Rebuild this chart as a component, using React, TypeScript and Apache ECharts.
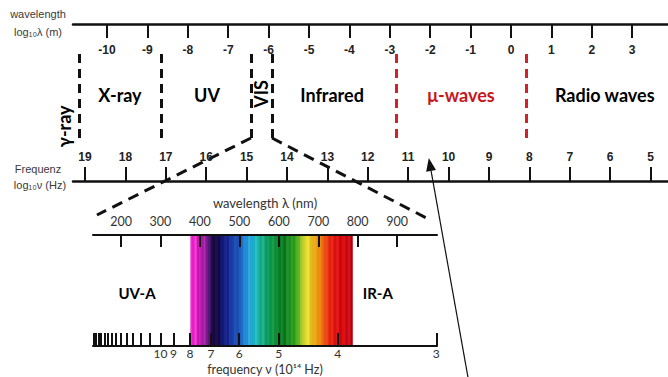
import React, { useEffect, useRef } from 'react';
import * as echarts from 'echarts';

// Outer scale (log10 of wavelength in m / log10 of frequency in Hz)
const LOG_LAMBDA_TICKS = [-10, -9, -8, -7, -6, -5, -4, -3, -2, -1, 0, 1, 2, 3];
const LOG_NU_TICKS = [19, 18, 17, 16, 15, 14, 13, 12, 11, 10, 9, 8, 7, 6, 5];

// Region boundaries in log10 λ (m)
const BOUNDARIES = [-10.693, -8.663, -6.436, -5.916, -2.847, 0.371];
const BOUNDARY_COLORS = ['#111111', '#111111', '#111111', '#111111', '#d42027', '#d42027'];

// Region labels
const REGIONS = ['γ-ray', 'X-ray', 'UV', 'VIS', 'Infrared', 'μ-waves', 'Radio waves'];
const REGION_CENTERS = [-11.064, -9.68, -7.525, -6.18, -4.43, -1.238, 2.32];
const REGION_LEVELS = [0.13, 0.48, 0.48, 0.49, 0.48, 0.48, 0.48];
const REGION_ROTATE = [90, 0, 0, 90, 0, 0, 0];
const REGION_COLORS = ['#000', '#000', '#000', '#000', '#000', '#c8161d', '#000'];

// Inner (zoomed) scale
const NM_TICKS = [200, 300, 400, 500, 600, 700, 800, 900];
const FREQ_TICKS = [3, 4, 5, 6, 7, 8, 9, 10, 11, 12, 13, 14, 15, 16, 17, 18, 19, 20, 21, 22, 23];
const FREQ_LABELS = [10, 9, 8, 7, 6, 5, 4, 3];
const C_NM = 2998; // c expressed in nm * 10^14 Hz

const INNER_REGIONS = ['UV-A', 'IR-A'];
const INNER_CENTERS = [240.6, 851];

// Visible spectrum stripes (start wavelength in nm)
const SPECTRUM_START = [
  375, 378, 386, 392, 398, 404, 410, 414, 420, 426, 432, 438, 444, 450, 456, 462, 468, 474, 480, 486,
  492, 498, 504, 510, 516, 522, 528, 534, 540, 546, 552, 558, 564, 570, 576, 582, 588, 594, 600, 606,
  612, 618, 624, 630, 636, 642, 648, 654, 660, 666, 672, 678, 684, 690, 696, 702, 708, 714, 720, 726,
  732, 738, 746, 752, 760, 768, 776, 782,
];
const SPECTRUM_END = 786;
const SPECTRUM_COLORS = [
  '#f070e0', '#e81cc8', '#f040d0', '#d010b8', '#c020b0', '#a01aa0', '#b030b0', '#7a1a90', '#5a1478', '#2a0c58',
  '#160838', '#200c50', '#0c0a40', '#1a1468', '#101a78', '#1c2890', '#122288', '#1a38a0', '#1840a8', '#2050b8',
  '#1a48b0', '#2060c0', '#1c6cc8', '#2888d8', '#2090d0', '#30a8e0', '#20a8d0', '#18b0c0', '#28c0c0', '#18b0a0',
  '#10a888', '#20b888', '#0c9868', '#10a060', '#0a9048', '#18a048', '#0c8a38', '#128c30', '#0a7a20', '#108428',
  '#0a7018', '#20902a', '#1a8a20', '#30a020', '#28981c', '#50b020', '#60b428', '#a0c828', '#c8d030', '#e8d828',
  '#f0e040', '#d8c020', '#e8b018', '#f0a818', '#e89010', '#f08818', '#f06810', '#e85010', '#f04018', '#e02010',
  '#f02818', '#d81010', '#e81c18', '#c80810', '#e01010', '#c00818', '#d81018', '#b00010',
];

const NARROW = "'Liberation Sans Narrow', 'Liberation Sans', Arial, sans-serif";
const SANS = "'Liberation Sans', Arial, sans-serif";
const CAL = "Lato, 'Open Sans', sans-serif";

export default function App() {
  const ref = useRef<HTMLDivElement>(null);

  useEffect(() => {
    if (!ref.current) return;
    const chart = echarts.init(ref.current, null, { renderer: 'svg' });

    const logLabel = { fontFamily: NARROW, fontWeight: 'bold' as const, fontSize: 12, color: '#222' };
    const blackLine = { color: '#111', width: 2.5 };
    const tickStyle = { color: '#111', width: 2 };

    const option: any = {
      animation: false,
      grid: [
        { left: 73, top: 24, width: 595, height: 157 },
        { left: 0, top: 48, width: 668, height: 90 },
        { left: 93, top: 235, width: 344, height: 111 },
      ],
      xAxis: [
        {
          gridIndex: 0, type: 'value', position: 'top', min: -10.842, max: 3.886,
          axisLine: { show: true, onZero: false, lineStyle: blackLine },
          axisTick: { show: true, inside: true, length: 14, lineStyle: tickStyle, customValues: LOG_LAMBDA_TICKS },
          axisLabel: { show: true, inside: true, margin: 20, customValues: LOG_LAMBDA_TICKS, ...logLabel },
          splitLine: { show: false },
        },
        {
          gridIndex: 0, type: 'value', position: 'bottom', inverse: true, min: 4.569, max: 19.297,
          axisLine: { show: true, onZero: false, lineStyle: blackLine },
          axisTick: { show: true, inside: true, length: 14, lineStyle: tickStyle, customValues: LOG_NU_TICKS },
          axisLabel: { show: true, inside: true, margin: 18, customValues: LOG_NU_TICKS, ...logLabel },
          splitLine: { show: false },
        },
        { gridIndex: 1, type: 'value', min: -12.649, max: 3.886, show: false, splitLine: { show: false } },
        {
          gridIndex: 2, type: 'value', position: 'top', min: 129, max: 1001, z: 10,
          axisLine: { show: true, onZero: false, lineStyle: { color: '#111', width: 2 } },
          axisTick: { show: true, inside: true, length: 12, lineStyle: tickStyle, customValues: NM_TICKS },
          axisLabel: { show: true, margin: 7, customValues: NM_TICKS, fontFamily: CAL, fontSize: 12.5, color: '#333' },
          splitLine: { show: false },
          name: 'wavelength λ (nm)', nameLocation: 'middle', nameGap: 26,
          nameTextStyle: { fontFamily: CAL, fontSize: 13, color: '#333' },
        },
        {
          gridIndex: 2, type: 'value', position: 'bottom', min: 129, max: 1001, z: 10,
          axisLine: { show: true, onZero: false, lineStyle: { color: '#111', width: 2 } },
          axisTick: {
            show: true, inside: true, length: 13, lineStyle: tickStyle,
            customValues: FREQ_TICKS.map((f) => C_NM / f),
          },
          axisLabel: {
            show: true, margin: 1, customValues: FREQ_LABELS.map((f) => C_NM / f),
            formatter: (v: number) => String(Math.round(C_NM / v)),
            fontFamily: CAL, fontSize: 12, color: '#333',
          },
          splitLine: { show: false },
          name: 'frequency ν (10¹⁴ Hz)', nameLocation: 'middle', nameGap: 17,
          nameTextStyle: { fontFamily: CAL, fontSize: 12.5, color: '#333' },
        },
      ],
      yAxis: [
        { gridIndex: 0, type: 'value', min: 0, max: 1, show: false, splitLine: { show: false } },
        { gridIndex: 1, type: 'value', min: 0, max: 1, show: false, splitLine: { show: false } },
        { gridIndex: 2, type: 'value', min: 0, max: 1, show: false, splitLine: { show: false } },
      ],
      series: [
        { type: 'scatter', xAxisIndex: 0, yAxisIndex: 0, data: [], silent: true },
        {
          type: 'scatter', xAxisIndex: 2, yAxisIndex: 1, symbolSize: 0, silent: true,
          itemStyle: { opacity: 1 },
          data: REGIONS.map((name, i) => ({
            value: [REGION_CENTERS[i], REGION_LEVELS[i]],
            label: { formatter: name, rotate: REGION_ROTATE[i], color: REGION_COLORS[i], fontWeight: 'bold' },
          })),
          label: { show: true, position: 'inside', fontFamily: CAL, fontWeight: 'bold', fontSize: 18, opacity: 1 },
          markLine: {
            symbol: 'none', silent: true, label: { show: false },
            data: BOUNDARIES.map((v, i) => ({
              xAxis: v,
              lineStyle: { color: BOUNDARY_COLORS[i], type: [9, 6], width: 3, opacity: 1 },
            })),
          },
        },
        {
          type: 'custom', xAxisIndex: 3, yAxisIndex: 2, silent: true, encode: { x: [0, 1] },
          data: SPECTRUM_START.map((s, i) => [s, i + 1 < SPECTRUM_START.length ? SPECTRUM_START[i + 1] : SPECTRUM_END]),
          renderItem: (params: any, api: any) => {
            const p0 = api.coord([api.value(0), 1]);
            const p1 = api.coord([api.value(1), 0]);
            return {
              type: 'rect',
              shape: { x: p0[0], y: p0[1], width: p1[0] - p0[0] + 0.6, height: p1[1] - p0[1] },
              style: { fill: SPECTRUM_COLORS[params.dataIndex] },
            };
          },
        },
        {
          type: 'scatter', xAxisIndex: 3, yAxisIndex: 2, symbolSize: 0, silent: true,
          itemStyle: { opacity: 1 },
          data: INNER_REGIONS.map((name, i) => ({ value: [INNER_CENTERS[i], 0.48], label: { formatter: name } })),
          label: { show: true, position: 'inside', fontFamily: CAL, fontWeight: 'bold', fontSize: 15, color: '#000', opacity: 1 },
        },
      ],
    };

    chart.setOption(option);

    const visL = chart.convertToPixel({ xAxisIndex: 2, yAxisIndex: 1 } as any, [BOUNDARIES[2], 0]) as number[];
    const visR = chart.convertToPixel({ xAxisIndex: 2, yAxisIndex: 1 } as any, [BOUNDARIES[3], 0]) as number[];
    const inL = chart.convertToPixel({ xAxisIndex: 3, yAxisIndex: 2 } as any, [139, 1]) as number[];
    const inR = chart.convertToPixel({ xAxisIndex: 3, yAxisIndex: 2 } as any, [979, 1]) as number[];
    const tip = chart.convertToPixel({ xAxisIndex: 1, yAxisIndex: 0 } as any, [10.49, 0.146]) as number[];
    const tail = chart.convertToPixel({ xAxisIndex: 1, yAxisIndex: 0 } as any, [9.52, -1.25]) as number[];

    const dx = tip[0] - tail[0];
    const dy = tip[1] - tail[1];
    const len = Math.sqrt(dx * dx + dy * dy);
    const ux = dx / len, uy = dy / len;
    const bx = tip[0] - ux * 13, by = tip[1] - uy * 13;
    const px = -uy * 5, py = ux * 5;

    const txt = (x: number, y: number, text: string) => ({
      type: 'text', x, y,
      style: { text, fill: '#3a3a3a', fontFamily: SANS, fontSize: 11, align: 'center', verticalAlign: 'middle' },
    });

    chart.setOption({
      graphic: [
        txt(38, 14, 'wavelength'),
        txt(38, 32, 'log₁₀λ (m)'),
        txt(38, 169, 'Frequenz'),
        txt(40, 185, 'log₁₀ν (Hz)'),
        {
          type: 'line', shape: { x1: visL[0], y1: visL[1], x2: inL[0], y2: inL[1] - 20 },
          style: { stroke: '#111', lineWidth: 3, lineDash: [11, 7] },
        },
        {
          type: 'line', shape: { x1: visR[0], y1: visR[1], x2: inR[0], y2: inR[1] - 16 },
          style: { stroke: '#111', lineWidth: 3, lineDash: [11, 7] },
        },
        {
          type: 'line', shape: { x1: tail[0], y1: tail[1], x2: bx, y2: by },
          style: { stroke: '#111', lineWidth: 1.2 },
        },
        {
          type: 'polygon',
          shape: { points: [[tip[0], tip[1]], [bx + px, by + py], [bx - px, by - py]] },
          style: { fill: '#111' },
        },
      ],
    });

    return () => chart.dispose();
  }, []);

  return (
    <div
      ref={ref}
      style={{ position: 'fixed', left: 0, top: 0, width: 668, height: 377, background: '#fff' }}
    />
  );
}
